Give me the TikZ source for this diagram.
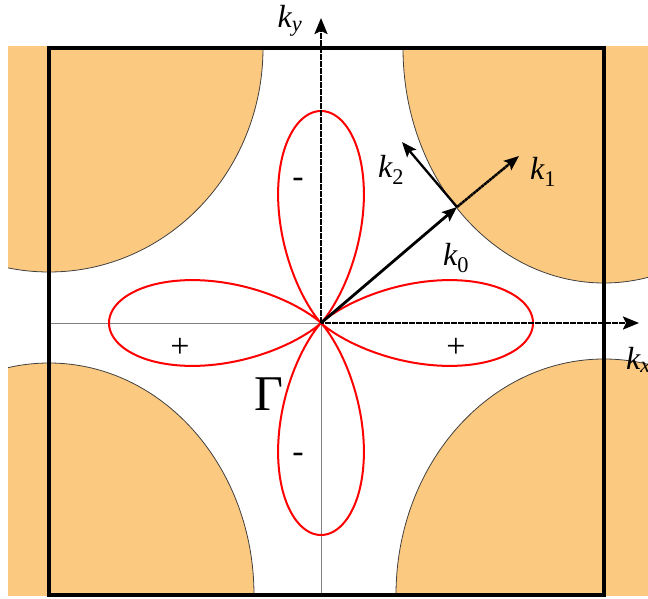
\documentclass[tikz,border=0pt]{standalone}
\usepackage{fontspec}
\setmainfont{Liberation Serif}
\usetikzlibrary{arrows.meta}
\definecolor{fsorange}{RGB}{252,201,128}
\begin{document}
\begin{tikzpicture}[x=1pt,y=-1pt,
  axisdot/.style={line width=2.3pt, dash pattern=on 3pt off 0.5pt, -{Stealth[length=16pt,width=13pt,inset=3pt]}},
  vec/.style={line width=2.8pt, -{Stealth[length=15pt,width=12pt,inset=3pt]}},
  vecdot/.style={line width=2.5pt, dash pattern=on 3pt off 0.5pt, -{Stealth[length=15pt,width=12pt,inset=3pt]}},
  lbl/.style={font=\fontsize{32}{36}\selectfont\itshape, inner sep=0pt},
  sgn/.style={font=\fontsize{34}{38}\selectfont, inner sep=0pt},
  fs/.style={fill=fsorange, draw=black!75, line width=0.8pt},
  lobe/.style={draw=red, line width=2pt},
  thinaxis/.style={draw=black!50, line width=1pt},
  zone/.style={draw=black, line width=4pt}]
\useasboundingbox (0,0) rectangle (648,599);
\fill[white] (0,0) rectangle (648,599);
% Fermi surface pockets
\begin{scope}
\clip (8,47) rectangle (648,595);
\draw[fs] (49,48) ellipse [x radius=214, y radius=224];
\draw[fs] (604,48) ellipse [x radius=201, y radius=235];
\draw[fs] (49,595) ellipse [x radius=205, y radius=232];
\draw[fs] (604,595) ellipse [x radius=208, y radius=236];
\end{scope}
% coordinates
\coordinate (O) at (321,323);
\coordinate (Xl) at (49,323);
\coordinate (Yb) at (321,595);
\coordinate (xtip) at (639,323);
\coordinate (ytip) at (321,18);
\coordinate (P) at (457,207);
\coordinate (k1tip) at (519,156);
\coordinate (k2tip) at (402,142);
% thin axes
\draw[thinaxis] (Xl) -- (O);
\draw[thinaxis] (O) -- (Yb);
% zone boundary
\draw[zone] (49,48.5) rectangle (604,595);
% d-wave lobes
\draw[lobe] plot[domain=0:360, samples=721] ({321+212*cos(2*\x)*cos(2*\x)*cos(\x)}, {323+212*cos(2*\x)*cos(2*\x)*sin(\x)}) -- cycle;
% positive axes
\draw[axisdot] (O) -- (xtip);
\draw[axisdot] (O) -- (ytip);
% vectors
\draw[vec] (O) -- (P);
\draw[vecdot] (P) -- (k1tip);
\draw[vec, line width=2.3pt] (P) -- (k2tip);
% labels
\node[lbl] (ky) at (290,21) {k\textsubscript{y}};
\node[lbl, anchor=west] (kx) at (626,360) {k\textsubscript{x}};
\node[lbl] (k0) at (456,258) {k\textsubscript{\upshape 0}};
\node[lbl] (k1) at (543,172) {k\textsubscript{\upshape 1}};
\node[lbl] (k2) at (391,170) {k\textsubscript{\upshape 2}};
\node[sgn] (mt) at (298,183) {-};
\node[sgn] (mb) at (298,458) {-};
\node[sgn] (pl) at (180,348) {+};
\node[sgn] (pr) at (456,348) {+};
\node[font=\fontsize{50}{56}\selectfont, inner sep=0pt] (G) at (269,394) {Γ};
\end{tikzpicture}
\end{document}
